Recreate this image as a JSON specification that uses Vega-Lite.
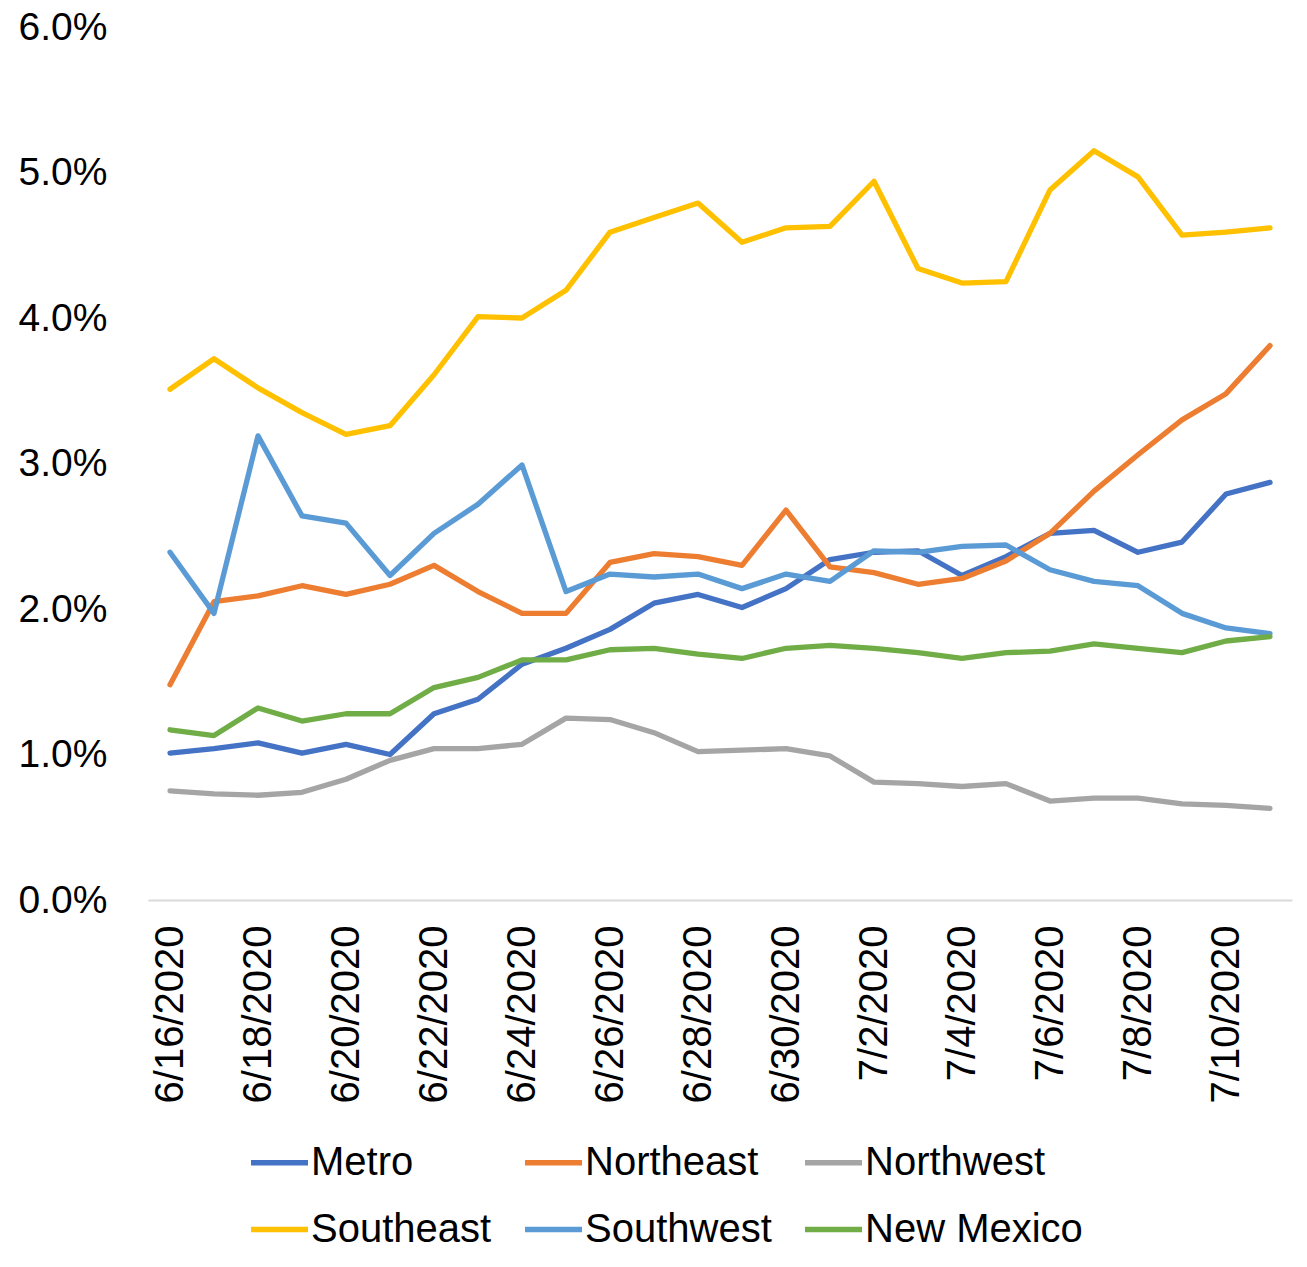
{
  "$schema": "https://vega.github.io/schema/vega-lite/v6.json",
  "autosize": {"type": "none"},
  "width": 1144,
  "height": 873,
  "padding": {"left": 148, "top": 27, "right": 15, "bottom": 367},
  "background": "#ffffff",
  "config": {
    "view": {"stroke": null},
    "font": "Liberation Sans",
    "point": {"padding": 0.5}
  },
  "data": {
    "values": [
      {"date": "6/16/2020", "Metro": 0.0101, "Northeast": 0.0148, "Northwest": 0.0075, "Southeast": 0.0351, "Southwest": 0.0239, "New Mexico": 0.0117},
      {"date": "6/17/2020", "Metro": 0.0104, "Northeast": 0.0205, "Northwest": 0.0073, "Southeast": 0.0372, "Southwest": 0.0197, "New Mexico": 0.0113},
      {"date": "6/18/2020", "Metro": 0.0108, "Northeast": 0.0209, "Northwest": 0.0072, "Southeast": 0.0352, "Southwest": 0.0319, "New Mexico": 0.0132},
      {"date": "6/19/2020", "Metro": 0.0101, "Northeast": 0.0216, "Northwest": 0.0074, "Southeast": 0.0335, "Southwest": 0.0264, "New Mexico": 0.0123},
      {"date": "6/20/2020", "Metro": 0.0107, "Northeast": 0.0210, "Northwest": 0.0083, "Southeast": 0.0320, "Southwest": 0.0259, "New Mexico": 0.0128},
      {"date": "6/21/2020", "Metro": 0.0100, "Northeast": 0.0217, "Northwest": 0.0096, "Southeast": 0.0326, "Southwest": 0.0223, "New Mexico": 0.0128},
      {"date": "6/22/2020", "Metro": 0.0128, "Northeast": 0.0230, "Northwest": 0.0104, "Southeast": 0.0361, "Southwest": 0.0252, "New Mexico": 0.0146},
      {"date": "6/23/2020", "Metro": 0.0138, "Northeast": 0.0212, "Northwest": 0.0104, "Southeast": 0.0401, "Southwest": 0.0272, "New Mexico": 0.0153},
      {"date": "6/24/2020", "Metro": 0.0162, "Northeast": 0.0197, "Northwest": 0.0107, "Southeast": 0.0400, "Southwest": 0.0299, "New Mexico": 0.0165},
      {"date": "6/25/2020", "Metro": 0.0173, "Northeast": 0.0197, "Northwest": 0.0125, "Southeast": 0.0419, "Southwest": 0.0212, "New Mexico": 0.0165},
      {"date": "6/26/2020", "Metro": 0.0186, "Northeast": 0.0232, "Northwest": 0.0124, "Southeast": 0.0459, "Southwest": 0.0224, "New Mexico": 0.0172},
      {"date": "6/27/2020", "Metro": 0.0204, "Northeast": 0.0238, "Northwest": 0.0115, "Southeast": 0.0469, "Southwest": 0.0222, "New Mexico": 0.0173},
      {"date": "6/28/2020", "Metro": 0.0210, "Northeast": 0.0236, "Northwest": 0.0102, "Southeast": 0.0479, "Southwest": 0.0224, "New Mexico": 0.0169},
      {"date": "6/29/2020", "Metro": 0.0201, "Northeast": 0.0230, "Northwest": 0.0103, "Southeast": 0.0452, "Southwest": 0.0214, "New Mexico": 0.0166},
      {"date": "6/30/2020", "Metro": 0.0214, "Northeast": 0.0268, "Northwest": 0.0104, "Southeast": 0.0462, "Southwest": 0.0224, "New Mexico": 0.0173},
      {"date": "7/1/2020", "Metro": 0.0234, "Northeast": 0.0229, "Northwest": 0.0099, "Southeast": 0.0463, "Southwest": 0.0219, "New Mexico": 0.0175},
      {"date": "7/2/2020", "Metro": 0.0239, "Northeast": 0.0225, "Northwest": 0.0081, "Southeast": 0.0494, "Southwest": 0.0240, "New Mexico": 0.0173},
      {"date": "7/3/2020", "Metro": 0.0240, "Northeast": 0.0217, "Northwest": 0.0080, "Southeast": 0.0434, "Southwest": 0.0239, "New Mexico": 0.0170},
      {"date": "7/4/2020", "Metro": 0.0223, "Northeast": 0.0221, "Northwest": 0.0078, "Southeast": 0.0424, "Southwest": 0.0243, "New Mexico": 0.0166},
      {"date": "7/5/2020", "Metro": 0.0236, "Northeast": 0.0233, "Northwest": 0.0080, "Southeast": 0.0425, "Southwest": 0.0244, "New Mexico": 0.0170},
      {"date": "7/6/2020", "Metro": 0.0252, "Northeast": 0.0252, "Northwest": 0.0068, "Southeast": 0.0488, "Southwest": 0.0227, "New Mexico": 0.0171},
      {"date": "7/7/2020", "Metro": 0.0254, "Northeast": 0.0281, "Northwest": 0.0070, "Southeast": 0.0515, "Southwest": 0.0219, "New Mexico": 0.0176},
      {"date": "7/8/2020", "Metro": 0.0239, "Northeast": 0.0306, "Northwest": 0.0070, "Southeast": 0.0497, "Southwest": 0.0216, "New Mexico": 0.0173},
      {"date": "7/9/2020", "Metro": 0.0246, "Northeast": 0.0330, "Northwest": 0.0066, "Southeast": 0.0457, "Southwest": 0.0197, "New Mexico": 0.0170},
      {"date": "7/10/2020", "Metro": 0.0279, "Northeast": 0.0348, "Northwest": 0.0065, "Southeast": 0.0459, "Southwest": 0.0187, "New Mexico": 0.0178},
      {"date": "7/11/2020", "Metro": 0.0287, "Northeast": 0.0381, "Northwest": 0.0063, "Southeast": 0.0462, "Southwest": 0.0183, "New Mexico": 0.0181}
    ]
  },
  "transform": [
    {"fold": ["Metro", "Northeast", "Northwest", "Southeast", "Southwest", "New Mexico"], "as": ["region", "rate"]}
  ],
  "mark": {"type": "line", "strokeWidth": 5.3, "strokeCap": "round", "strokeJoin": "round"},
  "encoding": {
    "x": {
      "field": "date",
      "type": "ordinal",
      "sort": null,
      "title": null,
      "axis": {
        "values": ["6/16/2020", "6/18/2020", "6/20/2020", "6/22/2020", "6/24/2020", "6/26/2020", "6/28/2020", "6/30/2020", "7/2/2020", "7/4/2020", "7/6/2020", "7/8/2020", "7/10/2020"],
        "labelAngle": -90,
        "labelFontSize": 40,
        "labelLimit": 0,
        "labelColor": "#000000",
        "labelPadding": 25,
        "ticks": false,
        "tickSize": 0,
        "domainColor": "#d9d9d9",
        "domainWidth": 2,
        "grid": false
      }
    },
    "y": {
      "field": "rate",
      "type": "quantitative",
      "title": null,
      "scale": {"domain": [0, 0.06], "nice": false},
      "axis": {
        "values": [0, 0.01, 0.02, 0.03, 0.04, 0.05, 0.06],
        "format": ".1%",
        "labelFontSize": 39,
        "labelColor": "#000000",
        "labelPadding": 41,
        "ticks": false,
        "tickSize": 0,
        "domain": false,
        "grid": false
      }
    },
    "color": {
      "field": "region",
      "type": "nominal",
      "scale": {
        "domain": ["Metro", "Northeast", "Northwest", "Southeast", "Southwest", "New Mexico"],
        "range": ["#4472C4", "#ED7D31", "#A5A5A5", "#FFC000", "#5B9BD5", "#70AD47"]
      },
      "legend": {
        "title": null,
        "orient": "none",
        "legendX": 100,
        "legendY": 1104,
        "direction": "horizontal",
        "columns": 3,
        "symbolType": "stroke",
        "symbolSize": 3249,
        "symbolStrokeWidth": 5.3,
        "labelFontSize": 40,
        "labelLimit": 0,
        "labelColor": "#000000",
        "labelOffset": 0,
        "columnPadding": 22,
        "rowPadding": 15
      }
    }
  }
}
